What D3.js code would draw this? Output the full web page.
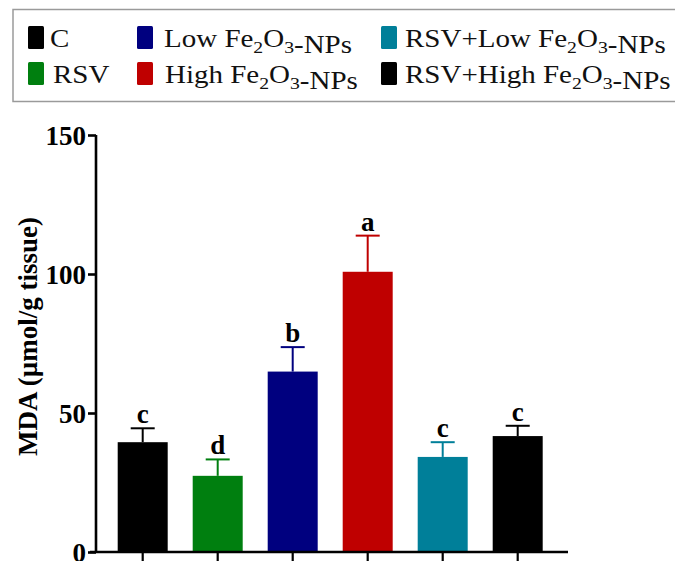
<!DOCTYPE html>
<html><head><meta charset="utf-8">
<script src="https://cdn.jsdelivr.net/npm/d3@7"></script>
<style>body{margin:0;background:#fff}svg{display:block}</style>
</head><body>
<svg id="chart" width="675" height="561"></svg>
<script>
const groups = ["C","RSV","Low Fe2O3-NPs","High Fe2O3-NPs","RSV+Low Fe2O3-NPs","RSV+High Fe2O3-NPs"];
const means = [39.5, 27.4, 64.9, 100.8, 34.2, 41.7];
const errors = [5.0, 5.9, 8.8, 13.0, 5.3, 3.7];
const letters = ["c","d","b","a","c","c"];
const colors = ["#000000","#007f0f","#00007f","#bf0000","#007f99","#000000"];
const yTicks = [0, 50, 100, 150];
const legendRows = [[0,2,4],[1,3,5]];

const svg = d3.select("#chart");
svg.append("rect").attr("width",675).attr("height",561).attr("fill","#fff");

// legend
svg.append("rect").attr("x",13).attr("y",9.5).attr("width",670).attr("height",92)
  .attr("fill","none").attr("stroke","#9a9a9a").attr("stroke-width",1.5);
const colSwX = [28, 137, 381];
const colTxX = [[50,53],[164,165],[405,405]];
const rowBase = [47, 83];
function writeLabel(g, label){
  const t = g.append("text").attr("font-family","'Liberation Serif','Times New Roman',serif")
    .attr("font-size",25).attr("fill","#111");
  const parts = label.split(/(Fe2O3)/);
  parts.forEach(p=>{
    if(p==="Fe2O3"){
      t.append("tspan").text("Fe");
      t.append("tspan").attr("dy",6).attr("font-size",17).text("2");
      t.append("tspan").attr("dy",-6).text("O");
      t.append("tspan").attr("dy",6).attr("font-size",17).text("3");
      t.append("tspan").attr("dy",-6).text("");
    } else if(p.length){
      t.append("tspan").text(p);
    }
  });
}
legendRows.forEach((row,ri)=>{
  row.forEach((gi,ci)=>{
    svg.append("rect").attr("x",colSwX[ci]).attr("y",rowBase[ri]-21).attr("width",16).attr("height",23)
      .attr("rx",1.5).attr("fill",colors[gi]);
    const g = svg.append("g").attr("transform",`translate(${colTxX[ci][ri]},${rowBase[ri]}) scale(1.16,1)`);
    writeLabel(g, groups[gi]);
  });
});

// scales
const x = d3.scaleBand().domain(groups).range([105.2,555.2]).paddingInner(1/3).paddingOuter(1/6);
const y = d3.scaleLinear().domain([0,150]).range([552,135]);
const bw = x.bandwidth();

const plot = svg.append("g");
// error bars
groups.forEach((gname,i)=>{
  const cx = x(gname)+bw/2;
  plot.append("line").attr("x1",cx).attr("x2",cx).attr("y1",y(means[i])).attr("y2",y(means[i]+errors[i]))
    .attr("stroke",colors[i]).attr("stroke-width",2);
  plot.append("line").attr("x1",cx-12).attr("x2",cx+12).attr("y1",y(means[i]+errors[i])).attr("y2",y(means[i]+errors[i]))
    .attr("stroke",colors[i]).attr("stroke-width",2);
  plot.append("text").attr("x",cx).attr("y",y(means[i]+errors[i])-5).attr("text-anchor","middle")
    .attr("font-family","'Liberation Serif','Times New Roman',serif").attr("font-weight","bold")
    .attr("font-size",27).text(letters[i]);
});
plot.selectAll("rect.bar").data(groups).enter().append("rect").attr("class","bar")
  .attr("x",d=>x(d)).attr("width",bw)
  .attr("y",(d,i)=>y(means[i])).attr("height",(d,i)=>y(0)-y(means[i]))
  .attr("fill",(d,i)=>colors[i]);

// y axis
const yAxis = d3.axisLeft(y).tickValues(yTicks).tickSize(8).tickPadding(2).tickFormat(d3.format("d"));
const ya = svg.append("g").attr("transform","translate(96,0)").call(yAxis);
ya.select(".domain").attr("d",`M0,${y(150)}V${y(0)}`).attr("stroke","#000").attr("stroke-width",2.6);
ya.selectAll(".tick line").attr("stroke","#000").attr("stroke-width",2.6);
ya.selectAll(".tick text").attr("font-family","'Liberation Serif','Times New Roman',serif")
  .attr("font-weight","bold").attr("font-size",27).attr("fill","#000").attr("dy","0.36em");

// x axis
const xAxis = d3.axisBottom(x).tickSize(9).tickFormat("");
const xa = svg.append("g").attr("transform",`translate(0,${y(0)})`).call(xAxis);
xa.select(".domain").attr("d","M90,0H568").attr("stroke","#000").attr("stroke-width",2.6);
xa.selectAll(".tick line").attr("stroke","#000").attr("stroke-width",2.2);

// y label
svg.append("text").attr("transform",`translate(37,${(y(0)+y(150))/2 - 7}) rotate(-90)`)
  .attr("text-anchor","middle").attr("font-family","'Liberation Serif','Times New Roman',serif")
  .attr("font-weight","bold").attr("font-size",27).attr("fill","#000")
  .text("MDA (µmol/g tissue)");
</script>
</body></html>
